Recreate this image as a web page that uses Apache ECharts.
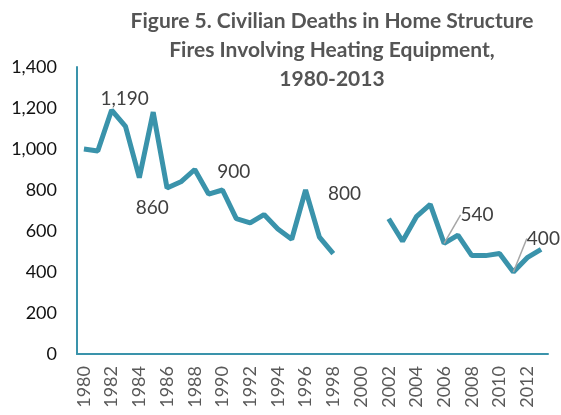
<!DOCTYPE html>
<html>
<head>
<meta charset="utf-8">
<script src="https://cdn.jsdelivr.net/npm/echarts@6/dist/echarts.min.js"></script>
<style>
  html, body { margin: 0; padding: 0; background: #fff; }
</style>
</head>
<body>
<div id="chart" style="width: 561px; height: 415px;"></div>
<script>
const years = [];
for (let y = 1980; y <= 2013; y += 1) years.push(String(y));

// civilian deaths, null = no data
const deaths = [
  1000, 990, 1190, 1110, 860, 1180, 810, 840, 900, 780,
  800, 660, 640, 680, 610, 560, 800, 570, 490, null,
  null, null, 660, 550, 670, 730, 540, 580, 480, 480,
  490, 400, 470, 510,
];

const labeledYears = ['1982', '1984', '1988', '1996', '2006', '2011'];

// label shifts (px) away from the default spot above the point
const labelShift = {
  1982: [13, 3],
  1984: [13, 45],
  1988: [39, 17],
  1996: [39, 18],
  2006: [33, -14],
  2011: [30, -19],
};
const guideYears = ['2006', '2011'];

const teal = '#3A93AB';
const chart = echarts.init(document.getElementById('chart'));

const seriesData = deaths.map((v, i) => {
  const item = { value: v };
  if (labeledYears.indexOf(years[i]) >= 0) {
    item.label = { show: true };
    item.labelLine = { show: guideYears.indexOf(years[i]) >= 0 };
  }
  return item;
});

const option = {
  animation: false,
  title: {
    text: 'Figure 5. Civilian Deaths in Home Structure\nFires Involving Heating Equipment,\n1980-2013',
    left: 327,
    top: 2,
    textAlign: 'center',
    textStyle: {
      fontFamily: 'Lato',
      fontWeight: 'bold',
      fontSize: 21,
      lineHeight: 29,
      color: '#555',
    },
  },
  grid: {
    left: 77,
    right: 13,
    top: 67,
    bottom: 61,
  },
  xAxis: {
    type: 'category',
    data: years,
    boundaryGap: true,
    axisTick: { show: false },
    axisLine: { lineStyle: { color: teal, width: 2 } },
    axisLabel: {
      interval: 1,
      rotate: 90,
      margin: 12,
      fontFamily: 'Lato',
      fontSize: 18,
      color: '#595959',
    },
    splitLine: { show: false },
  },
  yAxis: {
    type: 'value',
    min: 0,
    max: 1400,
    interval: 200,
    axisLine: { show: true, lineStyle: { color: teal, width: 2 } },
    axisTick: { show: false },
    splitLine: { show: false },
    axisLabel: {
      margin: 20,
      fontFamily: 'Lato',
      fontSize: 18,
      color: '#111',
      formatter: (v) => v.toLocaleString('en-US'),
    },
  },
  series: [
    {
      type: 'line',
      data: seriesData,
      connectNulls: false,
      symbol: 'circle',
      symbolSize: 0,
      showSymbol: true,
      lineStyle: { color: teal, width: 5 },
      itemStyle: { color: teal },
      label: {
        show: false,
        position: 'top',
        fontFamily: 'Lato',
        fontSize: 19,
        color: '#404040',
        formatter: (p) => p.value.toLocaleString('en-US'),
      },
      labelLine: {
        show: false,
        lineStyle: { color: '#A6A6A6', width: 1.5 },
      },
      labelLayout: (params) => {
        const s = labelShift[years[params.dataIndex]];
        if (!s) return {};
        return { dx: s[0], dy: s[1] };
      },
    },
  ],
};

chart.setOption(option);
</script>
</body>
</html>
